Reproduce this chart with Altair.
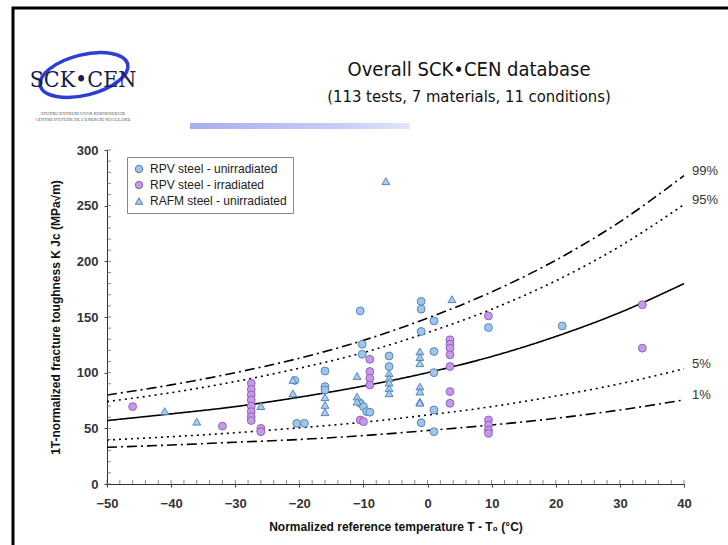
import altair as alt
import pandas as pd

# Test temperature relative to T0 (°C) and 1T-normalized K_Jc (MPa·√m)
rpv_unirr_T = [-20.7, -20.4, -19.2, -16, -16, -16, -10.5, -10.2, -10.2, -10.5, -10, -9.5, -9,
               -6, -6, -1, -1, -1, -1, 1, 1, 1, 1, 1, 9.5, 21]
rpv_unirr_K = [93, 54.5, 54.5, 101.5, 87.5, 84.5, 155.5, 125.5, 116.5, 72.5, 69.5, 65, 64.5,
               115, 105.5, 164, 157, 137, 55, 146.5, 119, 100, 66.5, 47, 140.5, 142]

rpv_irr_T = [-46, -32, -27.5, -27.5, -27.5, -27.5, -27.5, -27.5, -27.5, -27.5, -26, -26,
             -9, -9, -9, -9, -10.5, -10, 3.5, 3.5, 3.5, 3.5, 3.5, 3.5, 3.5,
             9.5, 9.5, 9.5, 9.5, 9.5, 33.5, 33.5]
rpv_irr_K = [69.5, 52, 90.5, 85, 80, 75.5, 70, 65, 60.5, 57, 50, 47,
             112, 101, 95, 89, 57.5, 56, 129.5, 125.5, 122, 116, 105.5, 83, 72.5,
             151, 57.5, 53, 48.5, 45.5, 161, 122]

rafm_T = [-41, -36, -26, -21, -21, -16, -16, -16, -11, -11, -11, -6.5,
          -6, -6, -6, -6, -6, -1.2, -1.2, -1.2, -1.2, -1.2, -1.2, -1.2, 3.8]
rafm_K = [65.5, 56, 70, 93.5, 81.5, 78, 71, 64.5, 97, 78.5, 74, 272,
          99.5, 95, 91, 86, 81.5, 119, 114, 108.5, 87.5, 83, 74, 73, 166]

series_names = ["RPV steel - unirradiated", "RPV steel - irradiated", "RAFM steel - unirradiated"]
series_fill = ["#9fc6ea", "#c79ae9", "#a9cbec"]
series_edge = ["#4b7db3", "#8858b8", "#4b7db3"]
series_shape = ["circle", "circle", "triangle-up"]

# Master curve and tolerance bounds, read every 10 °C
curve_T = [-50, -40, -30, -20, -10, 0, 10, 20, 30, 40]
curve_p99 = [80, 89, 100, 113, 129, 149, 172.5, 201, 235.5, 277]
curve_p95 = [74, 82, 92, 104, 118, 136, 157, 182.5, 213.5, 251]
curve_median = [57, 63, 69.5, 78, 88, 100, 114.5, 132.5, 154, 180]
curve_p05 = [39.5, 42.5, 46, 50.5, 55.5, 62, 69.5, 79, 90, 103.5]
curve_p01 = [33, 35, 37.5, 40, 43.5, 48, 53, 59, 66.5, 75.5]
curve_names = ["99%", "95%", "median", "5%", "1%"]
curve_dash = [[10, 4, 2, 4], [2, 4], [1, 0], [2, 4], [10, 4, 2, 4]]

# axis tick positions
x_major = list(range(-50, 41, 10))
x_minor = list(range(-50, 41, 2))
y_major = list(range(0, 301, 50))
y_minor = list(range(0, 301, 10))

title_lines = ["Overall SCK\u2022CEN database", "(113 tests, 7 materials, 11 conditions)"]

# ---- tables ----
pts = pd.concat([
    pd.DataFrame({"T": rpv_unirr_T, "K": rpv_unirr_K, "series": series_names[0]}),
    pd.DataFrame({"T": rpv_irr_T, "K": rpv_irr_K, "series": series_names[1]}),
    pd.DataFrame({"T": rafm_T, "K": rafm_K, "series": series_names[2]}),
], ignore_index=True)

curve_vals = [curve_p99, curve_p95, curve_median, curve_p05, curve_p01]
curves = pd.concat([
    pd.DataFrame({"T": curve_T, "K": vals, "curve": name})
    for name, vals in zip(curve_names, curve_vals)
], ignore_index=True)

ends = pd.DataFrame({
    "T": [curve_T[-1]] * 4,
    "K": [v[-1] for n, v in zip(curve_names, curve_vals) if n != "median"],
    "label": [n for n in curve_names if n != "median"],
})

SANS = "Liberation Sans, Arial, sans-serif"
HEAD = "DejaVu Sans Condensed, Roboto, sans-serif"

x_scale = alt.Scale(domain=[-50, 40], nice=False, zero=False)
y_scale = alt.Scale(domain=[0, 300], nice=False)

x_enc = alt.X("T:Q", scale=x_scale,
              axis=alt.Axis(orient="bottom", values=x_major, format="d",
                            title="Normalized reference temperature T - T\u2080 (\u00b0C)",
                            grid=False, tickSize=3, labelPadding=10, titlePadding=11,
                            labelFont=SANS, labelFontSize=13, labelFontWeight="bold",
                            labelColor="#333", titleFont=SANS, titleFontSize=12,
                            titleFontWeight="bold", titleColor="#111",
                            domainColor="#333", tickColor="#444", labelFlush=False))
y_enc = alt.Y("K:Q", scale=y_scale,
              axis=alt.Axis(orient="left", values=y_major, format="d",
                            title="1T-normalized fracture toughness K Jc (MPa\u221am)",
                            grid=False, tickSize=3, labelPadding=6, titlePadding=14,
                            labelFont=SANS, labelFontSize=13, labelFontWeight="bold",
                            labelColor="#333", titleFont=SANS, titleFontSize=12,
                            titleFontWeight="bold", titleColor="#111",
                            domainColor="#333", tickColor="#444"))

lines = alt.Chart(curves).mark_line(color="black", strokeWidth=1.6, interpolate="monotone").encode(
    x=x_enc, y=y_enc,
    strokeDash=alt.StrokeDash("curve:N", scale=alt.Scale(domain=curve_names, range=curve_dash),
                              legend=None),
    detail="curve:N",
)

# small inward ticks along both axes
x_ticks = alt.Chart(pd.DataFrame({"T": x_minor})).mark_tick(
    color="#555", thickness=1, size=4
).encode(x="T:Q", y=alt.value(332))
y_ticks = alt.Chart(pd.DataFrame({"K": y_minor})).mark_tick(
    color="#555", thickness=1, size=4
).encode(y="K:Q", x=alt.value(2))

end_labels = alt.Chart(ends).mark_text(align="left", dx=8, dy=-5, font=SANS, fontSize=13,
                                       color="#333").encode(x="T:Q", y="K:Q", text="label:N")

leg = alt.Legend(orient="none", legendX=20, legendY=7, title=None, strokeColor="#888",
                 fillColor="white", padding=6, labelFont=SANS, labelFontSize=12,
                 labelColor="#222", symbolSize=55, rowPadding=4, labelOffset=5,
                 symbolStrokeWidth=1)

points = alt.Chart(pts).mark_point(filled=True, size=62, strokeWidth=0.9, opacity=1).encode(
    x="T:Q", y="K:Q",
    fill=alt.Fill("series:N", scale=alt.Scale(domain=series_names, range=series_fill), legend=leg),
    stroke=alt.Stroke("series:N", scale=alt.Scale(domain=series_names, range=series_edge), legend=leg),
    shape=alt.Shape("series:N", scale=alt.Scale(domain=series_names, range=series_shape), legend=leg),
)

# ---- slide decorations (pixel positions relative to the plot origin) ----
one = pd.DataFrame({"k": [0]})

frame = alt.Chart(one).mark_rect(fill="transparent", stroke="black", strokeWidth=3).encode(
    x=alt.value(-94), x2=alt.value(700), y=alt.value(-142), y2=alt.value(500))

heading = alt.Chart(one).mark_text(
    text=title_lines[0], font=HEAD, fontSize=20, color="#111",
    align="center", baseline="middle"
).encode(x=alt.value(362), y=alt.value(-80))

subheading = alt.Chart(one).mark_text(
    text=title_lines[1], font=HEAD, fontSize=16.5, color="#111",
    align="center", baseline="middle"
).encode(x=alt.value(362), y=alt.value(-53))

title_bar = alt.Chart(one).mark_rect(
    fill=alt.Gradient(gradient="linear",
                      stops=[alt.GradientStop(color="#a7aef0", offset=0),
                             alt.GradientStop(color="#c9cdf7", offset=0.7),
                             alt.GradientStop(color="#e3e6fb", offset=1)],
                      x1=0, x2=1, y1=0, y2=0)
).encode(x=alt.value(83), x2=alt.value(303), y=alt.value(-27), y2=alt.value(-21))

logo_ring = alt.Chart(one).mark_point(
    shape="M-1,0 A1,0.45 0 1,1 1,0 A1,0.45 0 1,1 -1,0 Z",
    filled=False, stroke="#2b3fd6", strokeWidth=3.5, size=8100, angle=346, opacity=1
).encode(x=alt.value(-23), y=alt.value(-75))

logo_text = alt.Chart(one).mark_text(
    text="SCK\u2022CEN", font="DejaVu Serif Condensed, Liberation Serif, serif", fontSize=23,
    color="#1c1c48", align="center", baseline="middle"
).encode(x=alt.value(-24), y=alt.value(-70))

logo_sub1 = alt.Chart(one).mark_text(
    text="STUDIECENTRUM VOOR KERNENERGIE", font="Liberation Serif, serif", fontSize=4.5,
    color="#555", align="center"
).encode(x=alt.value(-24), y=alt.value(-36))

logo_sub2 = alt.Chart(one).mark_text(
    text="CENTRE D'ETUDE DE L'ENERGIE NUCLEAIRE", font="Liberation Serif, serif", fontSize=4.5,
    color="#555", align="center"
).encode(x=alt.value(-24), y=alt.value(-30))

chart = alt.layer(
    frame, heading, subheading, title_bar, logo_ring, logo_text, logo_sub1, logo_sub2,
    lines, x_ticks, y_ticks, end_labels, points
).properties(
    width=577, height=334,
    autosize=alt.AutoSizeParams(type="none"),
    padding={"left": 107, "top": 150, "right": 44, "bottom": 61},
    background="white",
).configure_view(stroke=None)

chart.save("out.html", embed_options={"renderer": "svg", "actions": False})
